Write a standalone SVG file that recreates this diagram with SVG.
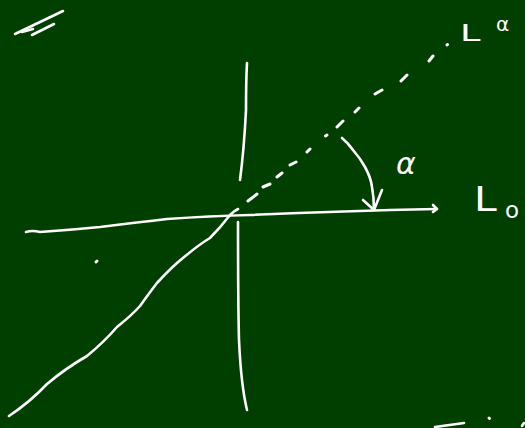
<svg xmlns="http://www.w3.org/2000/svg" width="525" height="428" viewBox="0 0 525 428">
<style>
.s{fill:none;stroke:#ffffff;stroke-width:2.6;stroke-linecap:round;stroke-linejoin:round}
.d{fill:none;stroke:#ffffff;stroke-width:3;stroke-linecap:round}
.t{fill:#ffffff;font-family:"DejaVu Sans",sans-serif}
</style>
<rect width="525" height="428" fill="#013f01"/>
<g id="scribble">
<path class="s" d="M15 34 L63 11"/>
<path class="s" d="M22 32 L33 29"/>
<path class="s" d="M32 35 L54 24"/>
</g>
<g id="axes">
<path class="s" d="M247 63 Q246 80 246 110 Q244 150 240 180"/>
<path class="s" d="M238 222 Q238 300 239 340 Q241 385 247 410"/>
<path class="s" d="M26 232 Q32 230 40 232 Q70 230 100 227 Q140 222 167 219 Q210 216 250 215 Q340 211 437 209"/>
<path class="s" d="M433 205 L437 209 L433 212"/>
<path class="s" d="M9 416 Q30 402 47 384 Q66 368 87 356 Q104 342 117 327 Q132 315 140 306 Q150 292 157 283 Q168 271 177 263 Q198 245 210 238 Q220 228 230 215 Q234 211 238 209"/>
</g>
<g id="dashed">
<path class="d" d="M248 201 L257 194 M263 187 L270 184 M277 177 L282 173 M290 165 L296 162 M307 152 L310 149 M325.5 136 L327 135 M337 127 L343 121 M355 112 L359 108 M375 94 L382 90 M401 81 L407 75 M429 61 L433 56 M447 45 L447.5 44.5"/>
</g>
<g id="angle">
<path class="s" d="M342 138 Q348 143 353 150 Q360 158 365 167 Q371 178 372 187 Q374 198 374 210"/>
<path class="s" d="M363 200 L374 210 L382 190"/>
</g>
<g id="labels">
<text class="t" x="396" y="174" font-size="30" font-style="italic">α</text>
<text class="t" font-size="23" transform="translate(460 41) scale(1.6 1)">L</text>
<text class="t" x="496" y="31" font-size="20">α</text>
<text class="t" font-size="34" transform="translate(474 211) scale(1.2 1)">L</text>
<text class="t" x="505" y="218" font-size="23">o</text>
</g>
<g id="marks">
<path class="d" d="M96 262 L97 261"/>
<path class="s" d="M435 427 L464 423"/>
<path class="d" d="M489 418 L489.5 418.5"/>
<path class="s" d="M522 426 L524 423"/>
</g>
</svg>
